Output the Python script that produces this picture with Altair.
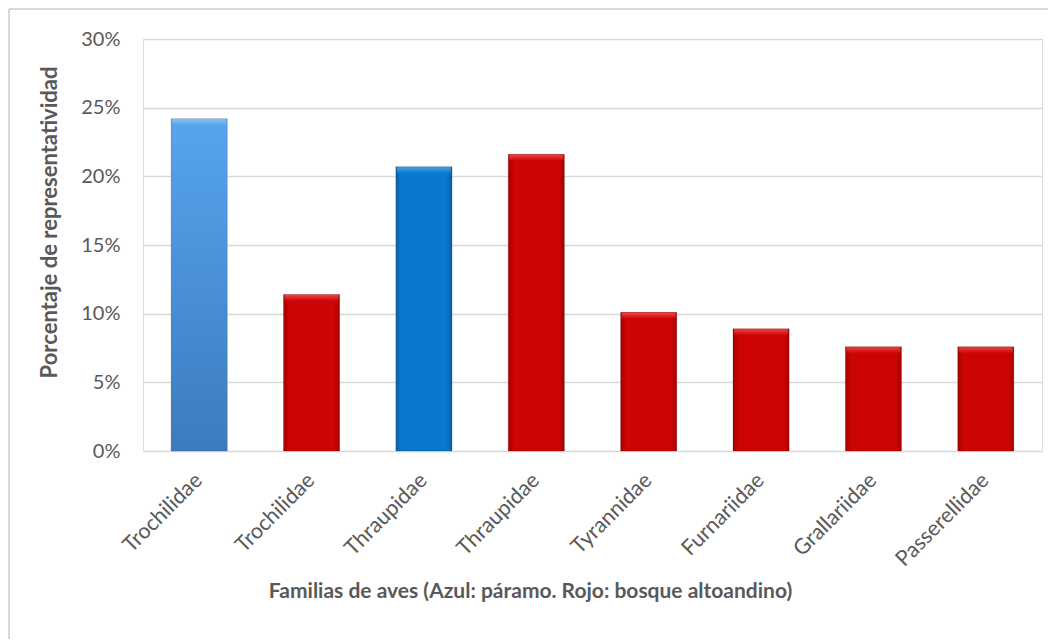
import json
import altair as alt
import pandas as pd

familias = ["Trochilidae", "Trochilidae", "Thraupidae", "Thraupidae",
            "Tyrannidae", "Furnariidae", "Grallariidae", "Passerellidae"]
habitat = ["páramo", "bosque", "páramo", "bosque",
           "bosque", "bosque", "bosque", "bosque"]
tono = ["azul_claro", "rojo", "azul", "rojo", "rojo", "rojo", "rojo", "rojo"]
porcentaje = [0.242, 0.114, 0.207, 0.216, 0.101, 0.089, 0.076, 0.076]

df = pd.DataFrame({
    "idx": list(range(len(familias))),
    "familia": familias,
    "habitat": habitat,
    "tono": tono,
    "pct": porcentaje,
})

label_expr = json.dumps(familias) + "[datum.value]"

FONT = "Lato"
GRAY = "#595959"

def grad_h(edge, mid):
    return {
        "gradient": "linear", "x1": 0, "y1": 0, "x2": 1, "y2": 0,
        "stops": [
            {"offset": 0, "color": edge},
            {"offset": 0.1, "color": mid},
            {"offset": 0.9, "color": mid},
            {"offset": 1, "color": edge},
        ],
    }

def grad_v(top, bottom):
    return {
        "gradient": "linear", "x1": 0, "y1": 0, "x2": 0, "y2": 1,
        "stops": [
            {"offset": 0, "color": top},
            {"offset": 1, "color": bottom},
        ],
    }

fills = {
    "azul_claro": grad_v("#56a5ec", "#3c7bbf"),
    "azul": grad_h("#0a5fa6", "#0a78cc"),
    "rojo": grad_h("#a50000", "#cc0404"),
}
bevels = {
    "azul_claro": grad_v("#8cc8f6", "#56a5ec"),
    "azul": grad_v("#4aa6ea", "#0a78cc"),
    "rojo": grad_v("#f04a4a", "#cc0404"),
}

x_enc = alt.X(
    "idx:O",
    scale=alt.Scale(paddingInner=0.5, paddingOuter=0.25),
    axis=alt.Axis(
        title="Familias de aves (Azul: páramo. Rojo: bosque altoandino)",
        labelExpr=label_expr,
        labelAngle=-45,
        labelAlign="right",
        labelBaseline="middle",
        labelFont=FONT,
        labelFontSize=21.5,
        labelColor=GRAY,
        labelPadding=26,
        labelOffset=0,
        ticks=False,
        domain=False,
        titleFont=FONT,
        titleFontSize=21,
        titleFontWeight="bold",
        titleColor=GRAY,
        titlePadding=10,
        titleX=387,
    ),
)
y_enc = alt.Y(
    "pct:Q",
    scale=alt.Scale(domain=[0, 0.30], nice=False),
    axis=alt.Axis(
        title="Porcentaje de representatividad",
        format=".0%",
        values=[0, 0.05, 0.10, 0.15, 0.20, 0.25, 0.30],
        labelFont=FONT,
        labelFontSize=20,
        labelColor=GRAY,
        labelPadding=23,
        ticks=False,
        domain=False,
        gridColor="#d9d9d9",
        gridWidth=1.5,
        titleFont=FONT,
        titleFontSize=22,
        titleFontWeight="bold",
        titleColor=GRAY,
        titlePadding=19,
        titleY=183,
    ),
)

layers = []
for t, f in fills.items():
    base = alt.Chart(df).transform_filter(alt.datum.tono == t)
    layers.append(
        base.mark_bar(fill=f, stroke="#00000033", strokeWidth=0.8)
        .encode(x=x_enc, y=y_enc, tooltip=["familia", "habitat", "pct"])
    )
    layers.append(
        base.mark_tick(color=bevels[t]["stops"][0]["color"], fill=bevels[t],
                       size=54, thickness=6, yOffset=3.5, opacity=0.9)
        .encode(x=x_enc, y=y_enc)
    )

frame_left = alt.Chart(df).mark_rule(color="#d9d9d9", strokeWidth=1.5).encode(
    x=alt.value(-134), y=alt.value(-30), y2=alt.value(600)
)
frame_top = alt.Chart(df).mark_rule(color="#d9d9d9", strokeWidth=1.5).encode(
    x=alt.value(-134), x2=alt.value(905), y=alt.value(-30)
)

chart = (
    alt.layer(*layers, frame_left, frame_top)
    .properties(width=899, height=412, padding=0)
    .configure_view(strokeWidth=0, stroke="transparent")
    .configure(background="white")
)

chart.save("out.html", embed_options={"renderer": "svg", "actions": False})
